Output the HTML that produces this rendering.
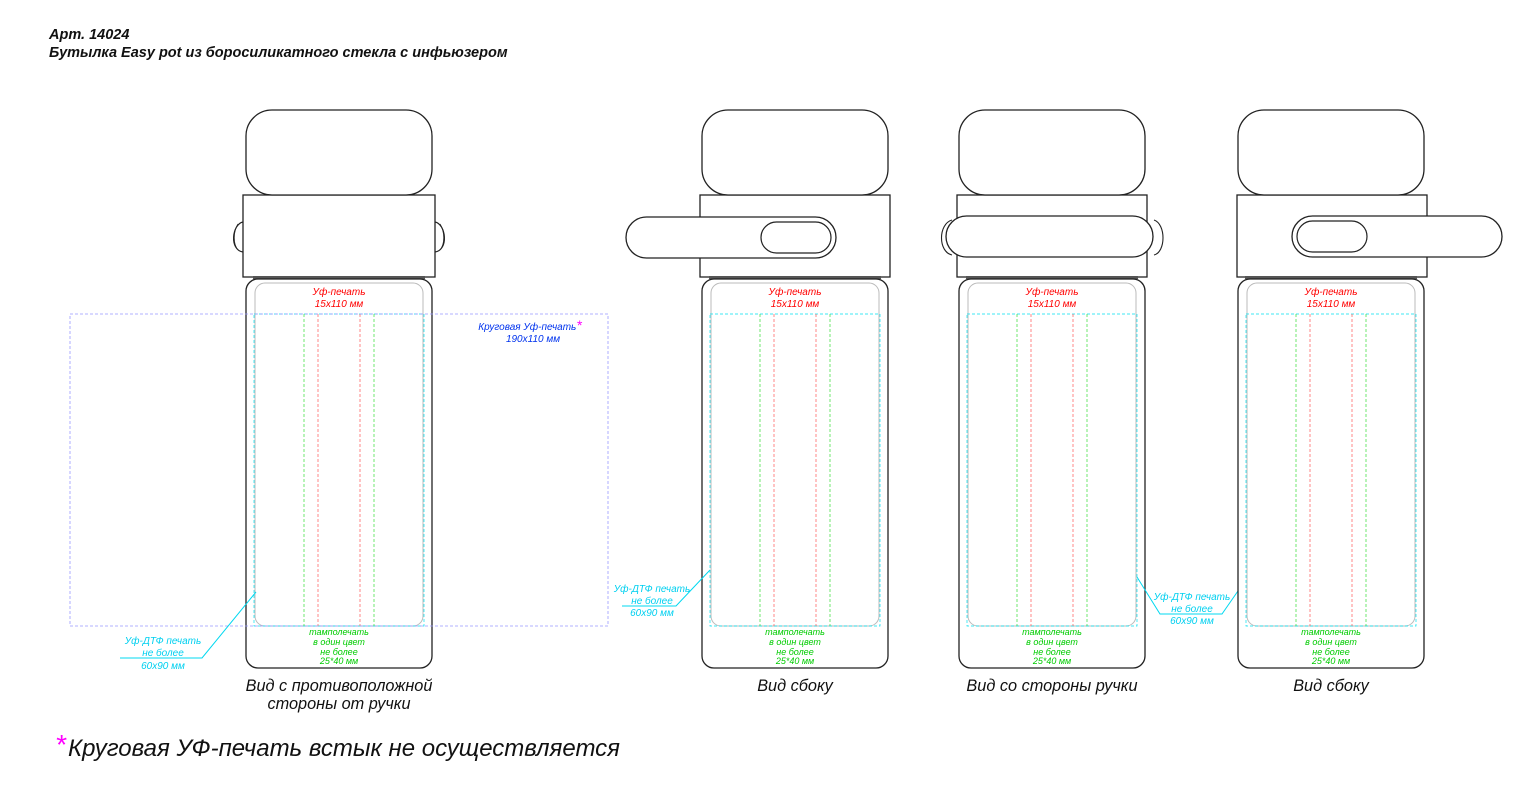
<!DOCTYPE html>
<html><head><meta charset="utf-8"><style>
body{margin:0;background:#fff}
svg{display:block}
text{font-family:"Liberation Sans",sans-serif;font-style:italic}
</style></head><body>
<svg width="1533" height="811" viewBox="0 0 1533 811" xmlns="http://www.w3.org/2000/svg">
<defs>
<g id="body">
  <rect x="246" y="110" width="186" height="85" rx="26" fill="#fff" stroke="#222" stroke-width="1.3"/>
  <rect x="253" y="276" width="172" height="3" fill="#555"/>
  <rect x="246" y="279" width="186" height="389" rx="12" fill="#fff" stroke="#222" stroke-width="1.3"/>
  <rect x="255" y="283" width="168" height="343" rx="10" fill="none" stroke="#bbb" stroke-width="1"/>
  <rect x="254" y="314" width="170" height="312" fill="none" stroke="#00e0f0" stroke-width="0.7" stroke-dasharray="3,2"/>
  <line x1="304" y1="314" x2="304" y2="626" stroke="#3d3" stroke-width="0.7" stroke-dasharray="3,2"/>
  <line x1="374" y1="314" x2="374" y2="626" stroke="#3d3" stroke-width="0.7" stroke-dasharray="3,2"/>
  <line x1="318" y1="314" x2="318" y2="626" stroke="#f55" stroke-width="0.7" stroke-dasharray="3,2"/>
  <line x1="360" y1="314" x2="360" y2="626" stroke="#f55" stroke-width="0.7" stroke-dasharray="3,2"/>
</g>
<g id="labels">
  <text x="339" y="295" font-size="10" fill="#f00" text-anchor="middle">Уф-печать</text>
  <text x="339" y="307" font-size="10" fill="#f00" text-anchor="middle">15x110 мм</text>
  <g font-size="9" fill="#0c0" text-anchor="middle">
  <text x="339" y="635">тамполечать</text>
  <text x="339" y="645">в один цвет</text>
  <text x="339" y="655">не более</text>
  <text x="339" y="664">25*40 мм</text>
  </g>
</g>
</defs>

<text x="49" y="39" font-size="14.5" font-weight="bold" fill="#111">Арт. 14024</text>
<text x="49" y="57" font-size="14.5" font-weight="bold" fill="#111">Бутылка Easy pot из боросиликатного стекла с инфьюзером</text>

<!-- view 1 -->
<path d="M243 222 C232 224,229 250,243 252" fill="#fff" stroke="#222" stroke-width="1.2"/>
<path d="M238 224 C233 232,233 244,238 250" fill="none" stroke="#222" stroke-width="0.8"/>
<path d="M435 222 C446 224,449 250,435 252" fill="#fff" stroke="#222" stroke-width="1.2"/>
<path d="M440 224 C445 232,445 244,440 250" fill="none" stroke="#222" stroke-width="0.8"/>
<rect x="243" y="195" width="192" height="82" fill="#fff" stroke="#222" stroke-width="1.3"/>
<use href="#body"/>
<use href="#labels"/>
<rect x="70" y="314" width="538" height="312" fill="none" stroke="#99f" stroke-width="0.8" stroke-dasharray="3,2"/>
<text x="530" y="330" font-size="10" fill="#0033ee" text-anchor="middle">Круговая Уф-печать<tspan fill="#f0f" font-size="14">*</tspan></text>
<text x="533" y="342" font-size="10" fill="#0033ee" text-anchor="middle">190x110 мм</text>
<polyline points="256,592 202,658 120,658" fill="none" stroke="#00d8f0" stroke-width="1"/>
<g font-size="10" fill="#00d0f0" text-anchor="middle">
<text x="163" y="644">Уф-ДТФ печать</text><text x="163" y="656">не более</text><text x="163" y="669">60x90 мм</text></g>
<text x="339" y="691" font-size="16.3" fill="#111" text-anchor="middle">Вид  с противоположной</text>
<text x="339" y="709" font-size="16.3" fill="#111" text-anchor="middle">стороны от ручки</text>

<!-- view 2 -->
<rect x="700" y="195" width="190" height="82" fill="#fff" stroke="#222" stroke-width="1.3"/>
<g transform="translate(456 0)"><use href="#body"/><use href="#labels"/></g>
<rect x="626" y="217" width="210" height="41" rx="20.5" fill="#fff" stroke="#222" stroke-width="1.3"/>
<rect x="761" y="222" width="70" height="31" rx="15.5" fill="#fff" stroke="#222" stroke-width="1.2"/>
<polyline points="710,570 676,606 622,606" fill="none" stroke="#00d8f0" stroke-width="1"/>
<g font-size="10" fill="#00d0f0" text-anchor="middle">
<text x="652" y="592">Уф-ДТФ печать</text><text x="652" y="604">не более</text><text x="652" y="616">60x90 мм</text></g>
<text x="795" y="691" font-size="16.3" fill="#111" text-anchor="middle">Вид сбоку</text>

<!-- view 3 -->
<rect x="957" y="195" width="190" height="82" fill="#fff" stroke="#222" stroke-width="1.3"/>
<g transform="translate(713 0)"><use href="#body"/><use href="#labels"/></g>
<path d="M952 220 C938 224,938 252,952 255" fill="#fff" stroke="#222" stroke-width="1.1"/>
<path d="M1154 220 C1166 224,1166 252,1154 255" fill="#fff" stroke="#222" stroke-width="1.1"/>
<rect x="946" y="216" width="207" height="41" rx="20.5" fill="#fff" stroke="#222" stroke-width="1.3"/>
<polyline points="1137,577 1160,614 1222,614 1247,578" fill="none" stroke="#00d8f0" stroke-width="1"/>
<g font-size="10" fill="#00d0f0" text-anchor="middle">
<text x="1192" y="600">Уф-ДТФ печать</text><text x="1192" y="612">не более</text><text x="1192" y="624">60x90 мм</text></g>
<text x="1052" y="691" font-size="16.3" fill="#111" text-anchor="middle">Вид  со стороны ручки</text>

<!-- view 4 -->
<rect x="1237" y="195" width="190" height="82" fill="#fff" stroke="#222" stroke-width="1.3"/>
<g transform="translate(992 0)"><use href="#body"/><use href="#labels"/></g>
<rect x="1292" y="216" width="210" height="41" rx="20.5" fill="#fff" stroke="#222" stroke-width="1.3"/>
<rect x="1297" y="221" width="70" height="31" rx="15.5" fill="#fff" stroke="#222" stroke-width="1.2"/>
<text x="1331" y="691" font-size="16.3" fill="#111" text-anchor="middle">Вид сбоку</text>

<text x="55" y="754" font-size="28" fill="#f0f">*</text>
<text x="68" y="756" font-size="24" fill="#111">Круговая УФ-печать встык не осуществляется</text>
</svg>
</body></html>
